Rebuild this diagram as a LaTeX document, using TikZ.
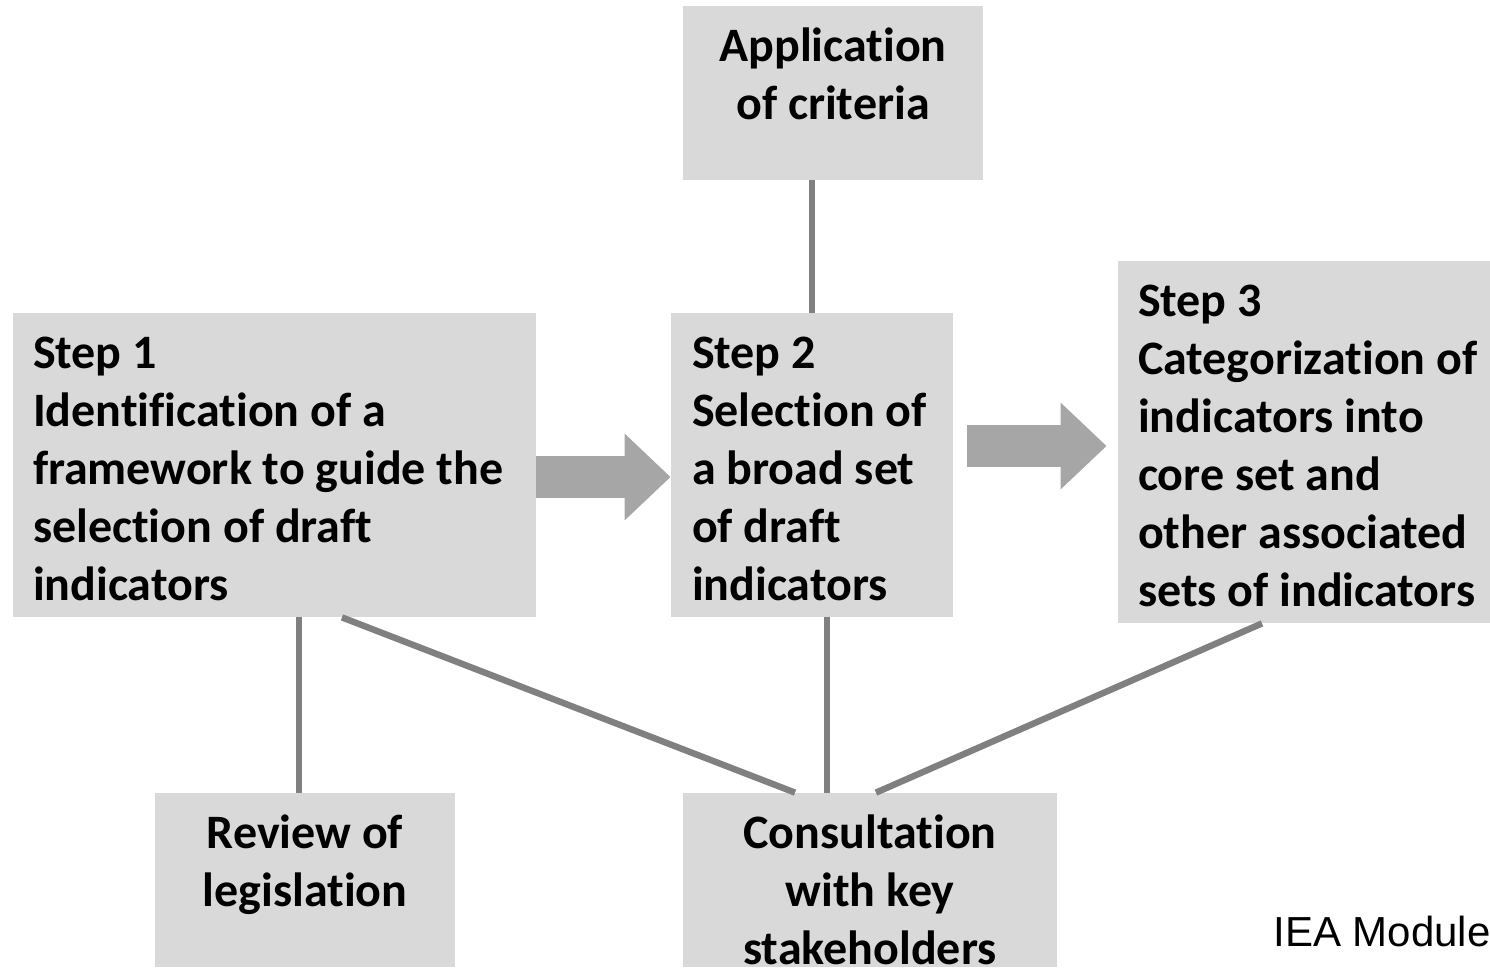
\documentclass[tikz,border=0pt]{standalone}
\usepackage{fontspec}
\setmainfont{Carlito}[Ligatures=NoCommon]
\newfontfamily\ieafont{Liberation Sans}
\usetikzlibrary{arrows.meta}
\definecolor{boxgray}{HTML}{D9D9D9}
\definecolor{linegray}{HTML}{808080}
\definecolor{arrowgray}{HTML}{A6A6A6}
\tikzset{
    plainbox/.style={fill=boxgray, inner sep=0pt},
    boxlabel/.style={inner sep=0pt, align=center, anchor=north,
        font=\bfseries\fontsize{24}{29}\selectfont},
    steplabel/.style={inner sep=0pt, align=flush left, anchor=west,
        font=\bfseries\fontsize{24}{29}\selectfont},
    link/.style={draw=linegray, line width=3.2pt},
    flow/.style={draw=arrowgray, line width=21pt, -{Triangle[length=23pt,width=42pt]}}
}

\begin{document}
\begin{tikzpicture}[x=0.5pt, y=-0.5pt]
    \useasboundingbox (0,0) rectangle (1490,970);
    \node[plainbox, minimum width=150pt, minimum height=87pt] (appbox) at (833,93) {};
    \node[boxlabel] (applbl) at ([yshift=-11pt]appbox.north) {Application\\of criteria};
    \node[plainbox, minimum width=261.5pt, minimum height=152pt] (step1) at (274.5,465) {};
    \node[steplabel] (step1lbl) at ([xshift=10pt,yshift=-2pt]step1.west)
        {Step 1\\Identification of a\\framework to guide the\\selection of draft\\indicators};
    \node[plainbox, minimum width=141pt, minimum height=152pt] (step2) at (812,465) {};
    \node[steplabel] (step2lbl) at ([xshift=10.5pt,yshift=-2pt]step2.west)
        {Step 2\\Selection of\\a broad set\\of draft\\indicators};
    \node[plainbox, minimum width=186pt, minimum height=181pt] (step3) at (1304,442) {};
    \node[steplabel] (step3lbl) at ([xshift=10pt,yshift=-2pt]step3.west)
        {Step 3\\Categorization of\\indicators into\\core set and\\other associated\\sets of indicators};
    \node[plainbox, minimum width=150pt, minimum height=87pt] (review) at (305,880) {};
    \node[boxlabel] (revlbl) at ([yshift=-11pt]review.north) {Review of\\legislation};
    \node[plainbox, minimum width=187pt, minimum height=87pt] (consult) at (870,880) {};
    \node[boxlabel] (conlbl) at ([yshift=-11pt]consult.north) {Consultation\\with key\\stakeholders};
    \node[inner sep=0pt, anchor=base west, font=\ieafont\fontsize{21}{25}\selectfont] (iea) at (1273,946) {IEA Module};

    \draw[flow] ([yshift=-6pt]step1.east) -- ([yshift=-6pt]step2.west);
    \draw[flow] ([xshift=7pt,yshift=9.5pt]step2.east) -- ([xshift=-5.5pt,yshift=-2pt]step3.west);

    \draw[link] (step2.north) -- (step2.north |- appbox.south);
    \draw[link] ([xshift=-3pt]review.north) -- ([xshift=-3pt]review.north |- step1.south);
    \draw[link] ([xshift=33.75pt]step1.south) -- ([xshift=-37.5pt]consult.north);
    \draw[link] ([xshift=7.5pt]step2.south) -- ([xshift=7.5pt]step2.south |- consult.north);
    \draw[link] ([xshift=-21pt]step3.south) -- ([xshift=3pt]consult.north);
\end{tikzpicture}
\end{document}
